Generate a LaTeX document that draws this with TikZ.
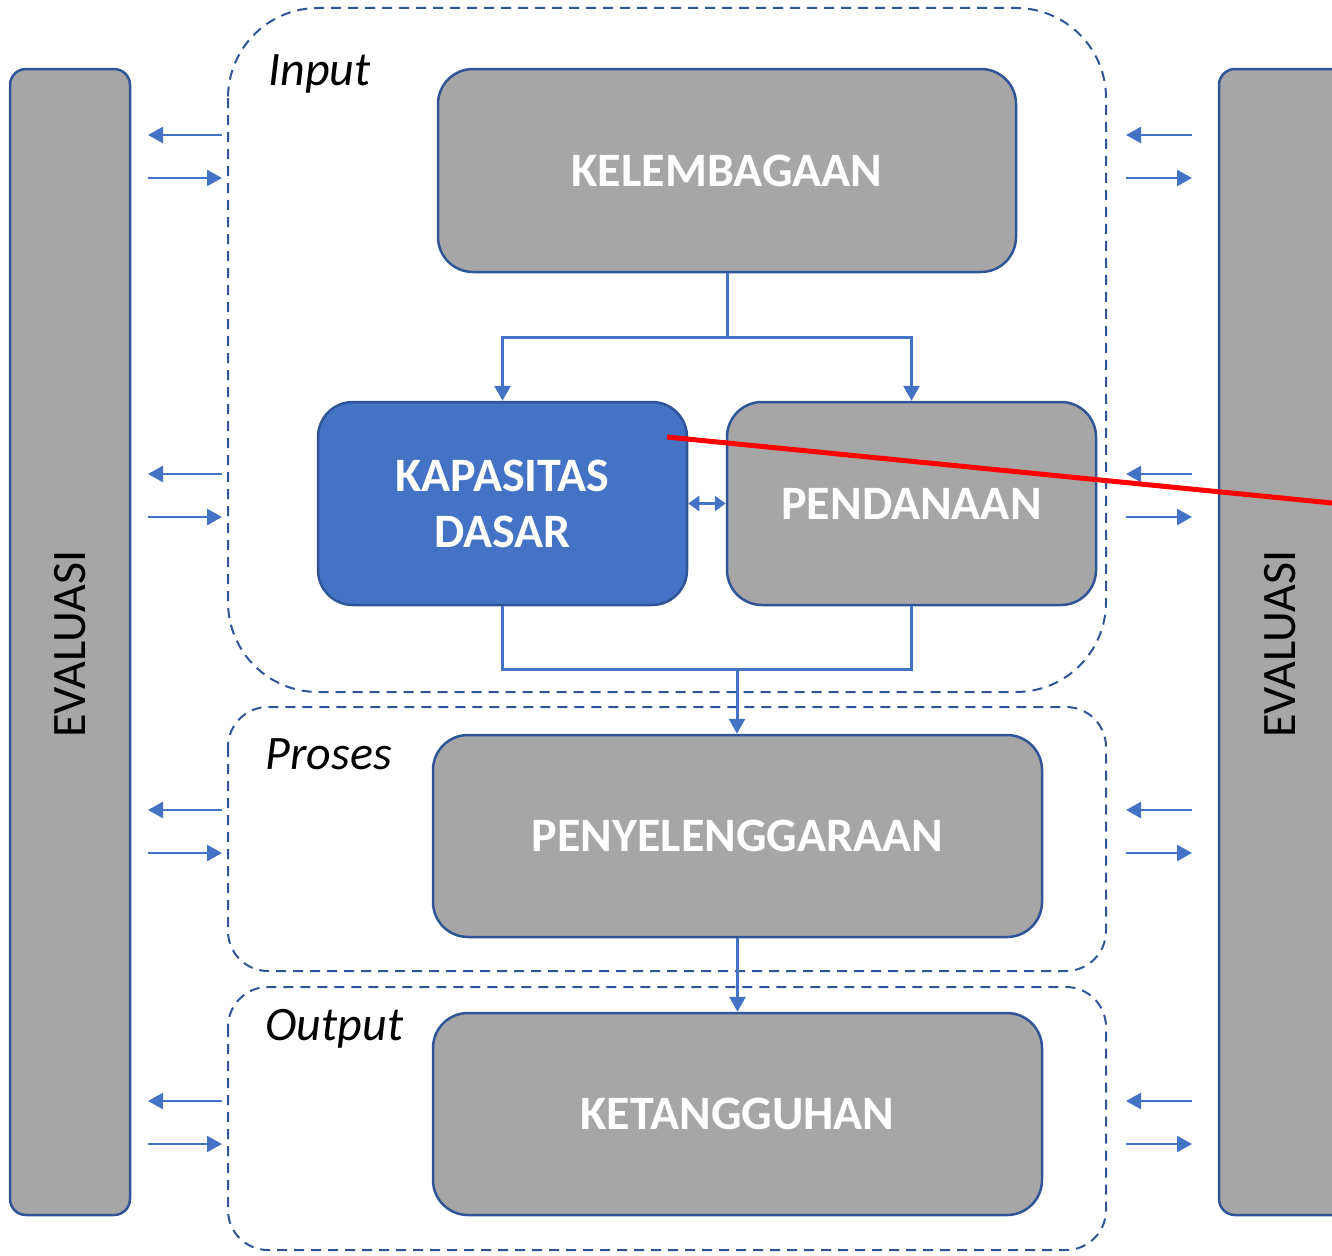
\documentclass[tikz,border=0pt]{standalone}
\usepackage{fontspec}
\setmainfont{Carlito}
\usetikzlibrary{arrows.meta}
\definecolor{boxgray}{HTML}{A6A6A6}
\definecolor{edgeblue}{HTML}{2F5597}
\definecolor{accent}{HTML}{4472C4}
\tikzset{
  blk/.style={draw=edgeblue, line width=2.5pt, fill=boxgray, rounded corners=35pt, text=white, font=\fontsize{48}{56}\selectfont\bfseries, align=center},
  evbar/.style={draw=edgeblue, line width=2.5pt, fill=boxgray, rounded corners=16pt},
  phase/.style={draw=edgeblue, line width=2pt, dash pattern=on 10pt off 7pt},
  conn/.style={draw=accent, line width=3pt},
  arr/.style={conn, -{Triangle[length=15pt,width=16pt]}},
  side/.style={draw=accent, line width=2.5pt, -{Triangle[length=15pt,width=16pt]}},
  lbl/.style={font=\fontsize{48}{56}\selectfont\itshape, anchor=base west},
}
\begin{document}
\begin{tikzpicture}[x=1pt,y=-1pt]
\useasboundingbox (0,0) rectangle (1332,1255);
\clip (0,0) rectangle (1332,1255);
% evaluation bars
\draw[evbar] (10,69) rectangle (130,1215);
\node[rotate=90, font=\fontsize{48}{56}\selectfont] (evl) at (70,644) {EVALUASI};
\draw[evbar] (1219,69) rectangle (1360,1215);
\node[rotate=90, font=\fontsize{48}{56}\selectfont] (evr) at (1280,644) {EVALUASI};
% phase frames
\draw[phase, rounded corners=90pt] (228,8) rectangle (1106,692);
\draw[phase, rounded corners=40pt] (228,707) rectangle (1106,971);
\draw[phase, rounded corners=40pt] (228,987) rectangle (1106,1250);
\node[lbl] (lin) at (265,85) {Input};
\node[lbl] (lpr) at (262,769) {Proses};
\node[lbl] (lou) at (262,1040) {Output};
% blocks
\node[blk, minimum width=578pt, minimum height=203pt] (kel) at (727,170.5) {KELEMBAGAAN};
\node[blk, fill=accent, minimum width=369pt, minimum height=203pt] (kap) at (502.5,503.5) {KAPASITAS\\DASAR};
\node[blk, minimum width=369pt, minimum height=203pt] (pen) at (911.5,503.5) {PENDANAAN};
\node[blk, minimum width=609pt, minimum height=202pt] (pny) at (737.5,836) {PENYELENGGARAAN};
\node[blk, minimum width=609pt, minimum height=202pt] (ket) at (737.5,1114) {KETANGGUHAN};
% connectors
\coordinate (j1) at (727,337);
\coordinate (j2) at (737,669);
\draw[conn] (kel.south) -- (j1);
\draw[arr] (j1) -| (kap.north);
\draw[arr] (j1) -| (pen.north);
\draw[conn] (kap.south) |- (j2);
\draw[conn] (pen.south) |- (j2);
\draw[arr] (j2) -- (pny.north -| j2);
\draw[arr] (pny.south) -- (ket.north);
\draw[draw=accent, line width=3pt, {Triangle[length=11pt,width=15pt]}-{Triangle[length=11pt,width=15pt]}] (kap.east) -- (pen.east -| pen.west);
% side arrows
\foreach \ya/\yb in {135/178, 474/517, 810/853, 1101/1144}{
  \coordinate (la) at (222,\ya); \coordinate (lb) at (148,\ya);
  \draw[side] (la) -- (lb);
  \coordinate (lc) at (148,\yb); \coordinate (ld) at (222,\yb);
  \draw[side] (lc) -- (ld);
  \coordinate (ra) at (1192,\ya); \coordinate (rb) at (1126,\ya);
  \draw[side] (ra) -- (rb);
  \coordinate (rc) at (1126,\yb); \coordinate (rd) at (1192,\yb);
  \draw[side] (rc) -- (rd);
}
% red annotation line
\coordinate (r1) at (667,437);
\coordinate (r2) at (1332,503);
\draw[red, line width=5pt] (r1) -- (r2);
\end{tikzpicture}
\end{document}
